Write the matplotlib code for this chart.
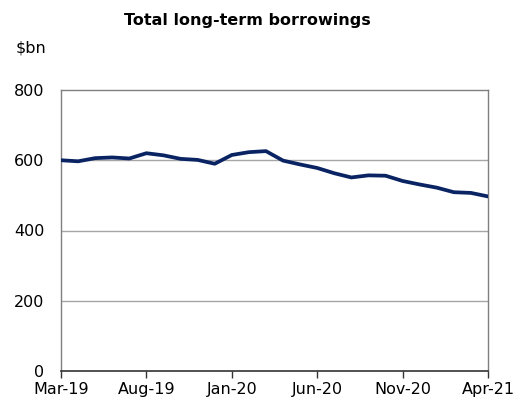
import matplotlib
matplotlib.use("Agg")
import matplotlib.pyplot as plt
import numpy as np

# Monthly totals, Mar-19 .. Apr-21 ($bn)
months = [
    "Mar-19", "Apr-19", "May-19", "Jun-19", "Jul-19", "Aug-19", "Sep-19",
    "Oct-19", "Nov-19", "Dec-19", "Jan-20", "Feb-20", "Mar-20", "Apr-20",
    "May-20", "Jun-20", "Jul-20", "Aug-20", "Sep-20", "Oct-20", "Nov-20",
    "Dec-20", "Jan-21", "Feb-21", "Mar-21", "Apr-21",
]
borrowings = [
    600, 597, 606, 608, 605, 620, 614, 604, 601, 590, 615, 623, 626,
    599, 588, 578, 563, 551, 557, 556, 541, 531, 522, 509, 507, 497,
]
y_ticks = [0, 200, 400, 600, 800]

plt.rcParams["font.family"] = ["DejaVu Sans"]

fig = plt.figure(figsize=(5.23, 4.08), dpi=100)
ax = fig.add_axes([61 / 523, 37 / 408, 427 / 523, 281 / 408])

x = np.arange(len(months))
ax.plot(x, borrowings, color="#0a2463", lw=2.7, solid_joinstyle="round", zorder=3)

ax.set_xlim(0, len(months) - 1)
ax.set_ylim(0, 800)
ax.set_yticks(y_ticks)
ax.set_yticklabels([str(v) for v in y_ticks], fontsize=11.5)
ax.tick_params(axis="y", length=0, pad=12)

tick_pos = x[::5]
ax.set_xticks(tick_pos)
ax.set_xticklabels([months[i] for i in tick_pos], fontsize=11.5)
ax.tick_params(axis="x", direction="out", length=5, width=1, color="#333333", pad=3)

for v in y_ticks[1:-1]:
    ax.axhline(v, color="#a6a6a6", lw=1, zorder=1)

for side in ["top", "right", "left"]:
    ax.spines[side].set_color("#7f7f7f")
    ax.spines[side].set_linewidth(1)
ax.spines["bottom"].set_color("#333333")
ax.spines["bottom"].set_linewidth(1.2)

fig.text(247 / 523, 1 - 20 / 408, "Total long-term borrowings", ha="center",
         va="center", fontsize=11.5, fontweight="bold")
fig.text(16 / 523, 1 - 48 / 408, "$bn", ha="left", va="center", fontsize=11.5)

fig.savefig("out.png", dpi=100)
